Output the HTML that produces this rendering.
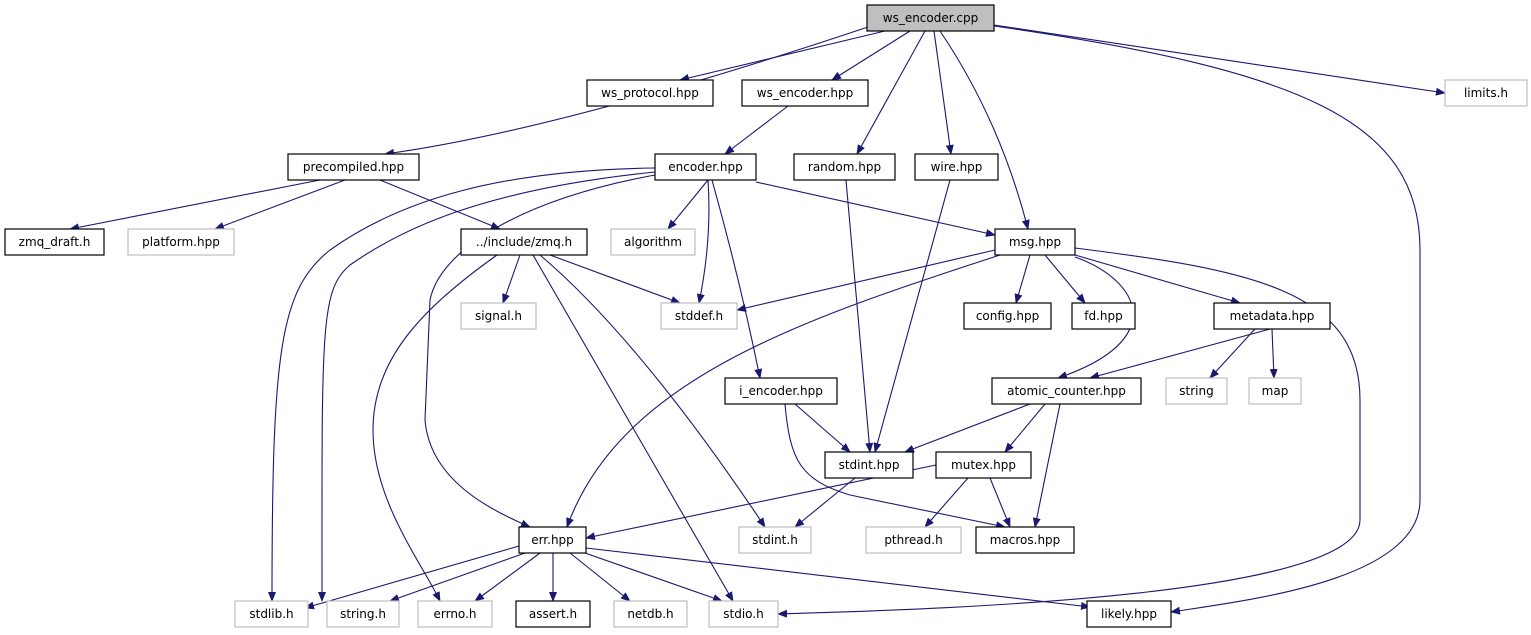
<!DOCTYPE html>
<html><head><meta charset="utf-8"><style>
html,body{margin:0;padding:0;background:#fff;}
svg{display:block;}
text{font-family:"DejaVu Sans","Liberation Sans",sans-serif;font-size:12px;fill:#000;}
.e{fill:none;stroke:#191970;stroke-width:1.1;marker-end:url(#a);}
.b{fill:#fff;stroke:#000;stroke-width:1.2;}
.g{fill:#fff;stroke:#bfbfbf;stroke-width:1.2;}
</style></head><body>
<svg width="1531" height="635" viewBox="0 0 1531 635" xmlns="http://www.w3.org/2000/svg">
<defs><marker id="a" markerWidth="10" markerHeight="8" refX="9" refY="4" orient="auto" markerUnits="userSpaceOnUse"><path d="M0,0 L10,4 L0,8 z" fill="#191970"/></marker></defs>
<g>
<path class="e" d="M868,27 Q560,130 385,154"/>
<path class="e" d="M885,31 L680,80"/>
<path class="e" d="M910,31 L832,80"/>
<path class="e" d="M925,31 L857,154"/>
<path class="e" d="M934,31 L951,154"/>
<path class="e" d="M940,31 Q1000,120 1028,229"/>
<path class="e" d="M994,25 L1445,93"/>
<path class="e" d="M994,26 C1300,70 1420,120 1420,250 L1420,500 C1420,580 1250,600 1171,612"/>
<path class="e" d="M788,106 L725,154"/>
<path class="e" d="M320,180 L70,229"/>
<path class="e" d="M345,180 L215,229"/>
<path class="e" d="M380,180 L500,229"/>
<path class="e" d="M708,180 L668,229"/>
<path class="e" d="M708,180 Q712,240 699,303"/>
<path class="e" d="M756,182 L995,235"/>
<path class="e" d="M712,180 Q740,280 760,378"/>
<path class="e" d="M655,168 C500,170 400,200 330,250 C280,290 272,350 272,601"/>
<path class="e" d="M655,172 C480,190 400,230 350,265 C320,290 322,330 322,601"/>
<path class="e" d="M655,175 C520,200 440,250 430,300 L425,420 C430,480 490,510 530,527"/>
<path class="e" d="M846,180 L870,452"/>
<path class="e" d="M950,180 L875,452"/>
<path class="e" d="M520,255 L503,303"/>
<path class="e" d="M550,255 L680,303"/>
<path class="e" d="M497,255 C420,310 373,360 373,430 C373,500 420,560 440,601"/>
<path class="e" d="M533,255 L733,601"/>
<path class="e" d="M540,255 Q640,340 765,527"/>
<path class="e" d="M995,250 L737,310"/>
<path class="e" d="M1000,255 C800,320 620,380 567,527"/>
<path class="e" d="M1030,255 L1016,303"/>
<path class="e" d="M1045,255 L1085,303"/>
<path class="e" d="M1075,255 L1240,303"/>
<path class="e" d="M1075,257 C1140,280 1170,340 1058,378"/>
<path class="e" d="M1075,248 C1250,270 1360,290 1360,400 L1360,520 C1360,600 900,610 778,614"/>
<path class="e" d="M1270,329 L1090,378"/>
<path class="e" d="M1255,329 L1210,378"/>
<path class="e" d="M1272,329 L1274,378"/>
<path class="e" d="M795,404 L850,452"/>
<path class="e" d="M785,404 C790,460 800,480 850,495 L1005,527"/>
<path class="e" d="M1030,404 L905,452"/>
<path class="e" d="M1045,404 L1005,452"/>
<path class="e" d="M1060,404 L1035,527"/>
<path class="e" d="M855,478 L795,527"/>
<path class="e" d="M936,465 L586,538"/>
<path class="e" d="M968,478 L925,527"/>
<path class="e" d="M990,478 L1010,527"/>
<path class="e" d="M519,546 L305,608"/>
<path class="e" d="M525,553 L390,601"/>
<path class="e" d="M540,553 L475,601"/>
<path class="e" d="M553,553 L553,601"/>
<path class="e" d="M570,553 L630,601"/>
<path class="e" d="M585,553 L722,601"/>
<path class="e" d="M586,548 L1090,607"/>
</g>
<g>
<rect x="867" y="5" width="127" height="26" fill="#bfbfbf" stroke="#000" stroke-width="1.2"/><text x="930.5" y="22" text-anchor="middle">ws_encoder.cpp</text>
<rect class="b" x="587" y="80" width="126" height="26"/><text x="650" y="97" text-anchor="middle">ws_protocol.hpp</text>
<rect class="b" x="742" y="80" width="126" height="26"/><text x="805" y="97" text-anchor="middle">ws_encoder.hpp</text>
<rect class="g" x="1445" y="80" width="82" height="26"/><text x="1486" y="97" text-anchor="middle">limits.h</text>
<rect class="b" x="288" y="154" width="131" height="26"/><text x="353.5" y="171" text-anchor="middle">precompiled.hpp</text>
<rect class="b" x="655" y="154" width="101" height="26"/><text x="705.5" y="171" text-anchor="middle">encoder.hpp</text>
<rect class="b" x="794" y="154" width="101" height="26"/><text x="844.5" y="171" text-anchor="middle">random.hpp</text>
<rect class="b" x="915" y="154" width="83" height="26"/><text x="956.5" y="171" text-anchor="middle">wire.hpp</text>
<rect class="b" x="5" y="229" width="99" height="26"/><text x="54.5" y="246" text-anchor="middle">zmq_draft.h</text>
<rect class="g" x="128" y="229" width="106" height="26"/><text x="181" y="246" text-anchor="middle">platform.hpp</text>
<rect class="b" x="461" y="229" width="126" height="26"/><text x="524" y="246" text-anchor="middle">../include/zmq.h</text>
<rect class="g" x="611" y="229" width="84" height="26"/><text x="653" y="246" text-anchor="middle">algorithm</text>
<rect class="b" x="995" y="229" width="80" height="26"/><text x="1035" y="246" text-anchor="middle">msg.hpp</text>
<rect class="g" x="461" y="303" width="75" height="26"/><text x="498.5" y="320" text-anchor="middle">signal.h</text>
<rect class="g" x="661" y="303" width="76" height="26"/><text x="699" y="320" text-anchor="middle">stddef.h</text>
<rect class="b" x="964" y="303" width="87" height="26"/><text x="1007.5" y="320" text-anchor="middle">config.hpp</text>
<rect class="b" x="1072" y="303" width="63" height="26"/><text x="1103.5" y="320" text-anchor="middle">fd.hpp</text>
<rect class="b" x="1214" y="303" width="116" height="26"/><text x="1272" y="320" text-anchor="middle">metadata.hpp</text>
<rect class="b" x="725" y="378" width="112" height="26"/><text x="781" y="395" text-anchor="middle">i_encoder.hpp</text>
<rect class="b" x="992" y="378" width="149" height="26"/><text x="1066.5" y="395" text-anchor="middle">atomic_counter.hpp</text>
<rect class="g" x="1166" y="378" width="61" height="26"/><text x="1196.5" y="395" text-anchor="middle">string</text>
<rect class="g" x="1249" y="378" width="52" height="26"/><text x="1275" y="395" text-anchor="middle">map</text>
<rect class="b" x="825" y="452" width="88" height="26"/><text x="869" y="469" text-anchor="middle">stdint.hpp</text>
<rect class="b" x="936" y="452" width="95" height="26"/><text x="983.5" y="469" text-anchor="middle">mutex.hpp</text>
<rect class="b" x="519" y="527" width="67" height="26"/><text x="552.5" y="544" text-anchor="middle">err.hpp</text>
<rect class="g" x="739" y="527" width="72" height="26"/><text x="775" y="544" text-anchor="middle">stdint.h</text>
<rect class="g" x="866" y="527" width="95" height="26"/><text x="913.5" y="544" text-anchor="middle">pthread.h</text>
<rect class="b" x="976" y="527" width="98" height="26"/><text x="1025" y="544" text-anchor="middle">macros.hpp</text>
<rect class="g" x="235" y="601" width="73" height="26"/><text x="271.5" y="618" text-anchor="middle">stdlib.h</text>
<rect class="g" x="327" y="601" width="72" height="26"/><text x="363" y="618" text-anchor="middle">string.h</text>
<rect class="g" x="418" y="601" width="74" height="26"/><text x="455" y="618" text-anchor="middle">errno.h</text>
<rect class="b" x="516" y="601" width="74" height="26"/><text x="553" y="618" text-anchor="middle">assert.h</text>
<rect class="g" x="614" y="601" width="73" height="26"/><text x="650.5" y="618" text-anchor="middle">netdb.h</text>
<rect class="g" x="709" y="601" width="69" height="26"/><text x="743.5" y="618" text-anchor="middle">stdio.h</text>
<rect class="b" x="1087" y="601" width="84" height="26"/><text x="1129" y="618" text-anchor="middle">likely.hpp</text>
</g>
</svg>
</body></html>
